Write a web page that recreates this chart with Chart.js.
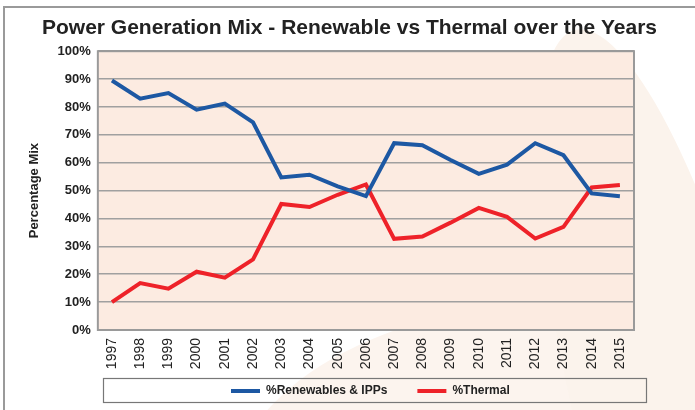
<!DOCTYPE html>
<html>
<head>
<meta charset="utf-8">
<script src="https://cdn.jsdelivr.net/npm/chart.js@4"></script>
<style>
  html, body { margin: 0; padding: 0; background: #fff; }
  #wrap { position: relative; width: 695px; height: 410px; overflow: hidden; background: #fff; }
  #deco { position: absolute; left: 480px; top: 30px; width: 190px; height: 800px; border-radius: 50%;
          background: #fbf3ec; transform: rotate(-14deg); transform-origin: 50% 0; }
  #deco2 { position: absolute; left: 230px; top: 300px; width: 700px; height: 400px; border-radius: 50%;
           background: #fcf4ee; }
  #frame { position: absolute; left: 3px; top: 6px; width: 720px; height: 430px; border: 2px solid #9a9a9a; }
  canvas { position: absolute; left: 0; top: 0; }
</style>
</head>
<body>
<div id="wrap">
  <div id="deco2"></div>
  <div id="deco"></div>
  <div id="frame"></div>
  <canvas id="mixChart" width="695" height="410"></canvas>
</div>
<script>
const years = ['1997','1998','1999','2000','2001','2002','2003','2004','2005','2006',
               '2007','2008','2009','2010','2011','2012','2013','2014','2015'];
const renewables = [89.5, 83, 85, 79, 81.2, 74.5, 54.7, 55.7, 51.5, 48,
                    67, 66.3, 61, 56, 59.3, 67, 62.7, 49, 48];
const thermal = [10, 16.8, 14.8, 20.9, 18.8, 25.3, 45.2, 44.1, 48.5, 52.2,
                 32.7, 33.5, 38.5, 43.8, 40.6, 32.8, 37, 51.1, 52];
const yTicks = [0, 10, 20, 30, 40, 50, 60, 70, 80, 90, 100];

const FONT = 'Liberation Sans, Arial';

// plot background, plot border, legend frame, legend placement
const plotDeco = {
    id: 'plotDeco',
    afterUpdate(chart) {
        const lg = chart.legend;
        lg.left = 201; lg.right = 695;
        lg.top = 355; lg.bottom = 410;
        lg.width = lg.right - lg.left;
        lg.height = lg.bottom - lg.top;
        lg.adjustHitBoxes();
    },
    beforeDraw(chart) {
        const a = chart.chartArea, ctx = chart.ctx;
        ctx.save();
        ctx.fillStyle = '#fcebe1';
        ctx.fillRect(a.left, a.top, a.right - a.left, a.bottom - a.top);
        ctx.restore();
    },
    afterDraw(chart) {
        const a = chart.chartArea, ctx = chart.ctx;
        ctx.save();
        ctx.strokeStyle = '#9a9a9a';
        ctx.lineWidth = 2;
        ctx.strokeRect(a.left, a.top, a.right - a.left, a.bottom - a.top);
        ctx.lineWidth = 1.2;
        ctx.strokeStyle = '#777';
        ctx.strokeRect(103.5, 378.5, 543, 24);
        ctx.restore();
    }
};

new Chart(document.getElementById('mixChart'), {
    type: 'line',
    data: {
        labels: years,
        datasets: [{
            label: '%Renewables & IPPs',
            data: renewables,
            borderColor: '#1d58a3',
            backgroundColor: '#1d58a3',
            borderWidth: 4,
            pointRadius: 0,
            tension: 0
        }, {
            label: '%Thermal',
            data: thermal,
            borderColor: '#ee2229',
            backgroundColor: '#ee2229',
            borderWidth: 4,
            pointRadius: 0,
            tension: 0
        }]
    },
    options: {
        responsive: false,
        animation: false,
        layout: { padding: { left: 6, right: 2, top: 8, bottom: 0 } },
        plugins: {
            title: {
                display: true,
                text: 'Power Generation Mix - Renewable vs Thermal over the Years',
                font: { family: FONT, size: 21, weight: 'bold' },
                color: '#222',
                padding: { top: 8, bottom: 10 }
            },
            legend: {
                position: 'bottom',
                align: 'start',
                maxHeight: 40,
                labels: {
                    boxWidth: 29,
                    boxHeight: 4,
                    padding: 30,
                    color: '#222',
                    font: { family: FONT, size: 12, weight: 'bold' },
                    generateLabels(chart) {
                        return Chart.defaults.plugins.legend.labels.generateLabels(chart)
                            .map(l => Object.assign(l, { lineWidth: 0 }));
                    }
                }
            },
            tooltip: { enabled: false }
        },
        scales: {
            x: {
                offset: true,
                grid: { display: false },
                border: { display: false },
                afterFit(scale) { scale.height = 40; },
                ticks: {
                    maxRotation: 90,
                    minRotation: 90,
                    color: '#222',
                    padding: 0,
                    font: { family: FONT, size: 14 }
                }
            },
            y: {
                min: 0,
                max: 100,
                afterBuildTicks(scale) { scale.ticks = yTicks.map(v => ({ value: v })); },
                grid: { color: '#a0a0a0', lineWidth: 1.5, drawTicks: false },
                border: { display: false },
                ticks: {
                    color: '#222',
                    padding: 7,
                    font: { family: FONT, size: 13, weight: 'bold' },
                    callback: v => v + '%'
                },
                title: {
                    display: true,
                    text: 'Percentage Mix',
                    color: '#222',
                    font: { family: FONT, size: 13, weight: 'bold' },
                    padding: { top: 21, bottom: 8 }
                }
            },
            // empty right-hand axis that only reserves the margin right of the plot
            yR: {
                position: 'right',
                min: 0,
                max: 100,
                grid: { display: false },
                border: { display: false },
                ticks: { display: false },
                afterFit(scale) { scale.width = 59; }
            }
        }
    },
    plugins: [plotDeco]
});
</script>
</body>
</html>
